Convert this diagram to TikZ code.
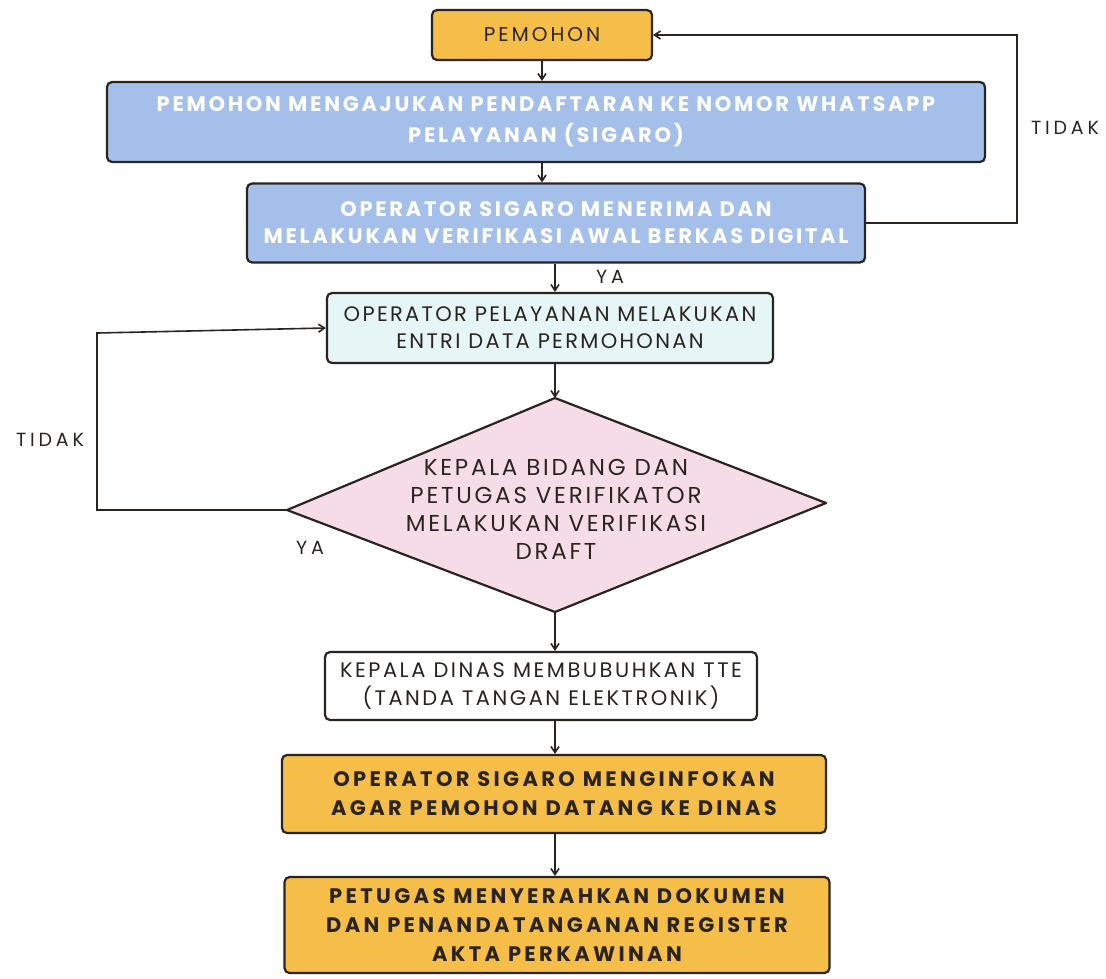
\documentclass[tikz,border=0pt]{standalone}
\usepackage{fontspec}
\setmainfont{Poppins}
\usetikzlibrary{arrows.meta}
\definecolor{orng}{HTML}{F5BE48}
\definecolor{blu}{HTML}{A4C0EA}
\definecolor{cyn}{HTML}{E6F5F5}
\definecolor{pnk}{HTML}{F6DCE6}
\definecolor{ink}{HTML}{2A2420}
\newcommand{\ls}[1]{\addfontfeature{LetterSpace=#1}}
\tikzset{
  box/.style={draw=ink, line width=2.2pt, rounded corners=5pt, align=center, inner sep=0pt, text=ink},
  orbox/.style={box, fill=orng},
  blbox/.style={box, fill=blu, text=white},
  conn/.style={draw=ink, line width=1.6pt, -{Straight Barb[length=6pt,width=8pt]}},
  lbl/.style={font=\fontsize{19}{22}\selectfont\ls{20}, text=ink}
}
\begin{document}
\begin{tikzpicture}[x=1pt,y=-1pt]
\useasboundingbox (0,0) rectangle (1106,978);
\fill[white] (0,0) rectangle (1106,978);
\node[orbox, minimum width=220pt, minimum height=50pt, font=\fontsize{20}{24}\selectfont\ls{15}] (p) at (542,35) {PEMOHON};
\node[blbox, minimum width=878pt, minimum height=80pt, font=\fontsize{21}{31}\selectfont\bfseries\ls{13}] (b2) at (546,122) {PEMOHON MENGAJUKAN PENDAFTARAN KE NOMOR WHATSAPP\\PELAYANAN (SIGARO)};
\node[blbox, minimum width=618pt, minimum height=79pt, font=\fontsize{21}{27}\selectfont\bfseries\ls{13}] (b3) at (556,223) {OPERATOR SIGARO MENERIMA DAN\\MELAKUKAN VERIFIKASI AWAL BERKAS DIGITAL};
\node[box, fill=cyn, minimum width=446pt, minimum height=70pt, font=\fontsize{21}{27}\selectfont\ls{11}] (b4) at (550,328) {OPERATOR PELAYANAN MELAKUKAN\\ENTRI DATA PERMOHONAN};
\coordinate (dN) at (555,398);
\coordinate (dS) at (555,612);
\coordinate (dW) at (287,510);
\coordinate (dE) at (826,503);
\draw[draw=ink, line width=2.2pt, fill=pnk, line join=round] (dN) -- (dE) -- (dS) -- (dW) -- cycle;
\node[align=center, text=ink, inner sep=0pt, font=\fontsize{23}{28}\selectfont\ls{12}] (dt) at (556,509) {KEPALA BIDANG DAN\\PETUGAS VERIFIKATOR\\MELAKUKAN VERIFIKASI\\DRAFT};
\node[box, fill=white, minimum width=432pt, minimum height=68pt, font=\fontsize{21}{28}\selectfont\ls{12}] (b5) at (541,686) {KEPALA DINAS MEMBUBUHKAN TTE\\(TANDA TANGAN ELEKTRONIK)};
\node[orbox, minimum width=544pt, minimum height=78pt, font=\fontsize{21}{29}\selectfont\bfseries\ls{16}] (b6) at (554,794) {OPERATOR SIGARO MENGINFOKAN\\AGAR PEMOHON DATANG KE DINAS};
\node[orbox, minimum width=545pt, minimum height=96pt, font=\fontsize{21}{29}\selectfont\bfseries\ls{16}] (b7) at (557,925) {PETUGAS MENYERAHKAN DOKUMEN\\DAN PENANDATANGANAN REGISTER\\AKTA PERKAWINAN};
\draw[conn] (p.south) -- (p.south |- b2.north);
\draw[conn] (p.south |- b2.south) -- (p.south |- b3.north);
\coordinate (tr) at (1017,35);
\draw[conn] (b3.east) -| (tr) -- (p.east);
\node[lbl] (t1) at (1065,128) {TIDAK};
\draw[conn] (dN |- b3.south) -- (dN |- b4.north);
\node[lbl] (y1) at (610,277) {YA};
\draw[conn] (dN |- b4.south) -- (dN);
\coordinate (tl) at (97,333);
\draw[conn] (dW) -| (tl) -- (b4.west);
\node[lbl] (t2) at (50,440) {TIDAK};
\node[lbl] (y2) at (310,548) {YA};
\draw[conn] (dS) -- (dS |- b5.north);
\draw[conn] (dS |- b5.south) -- (dS |- b6.north);
\draw[conn] (dS |- b6.south) -- (dS |- b7.north);
\end{tikzpicture}
\end{document}
